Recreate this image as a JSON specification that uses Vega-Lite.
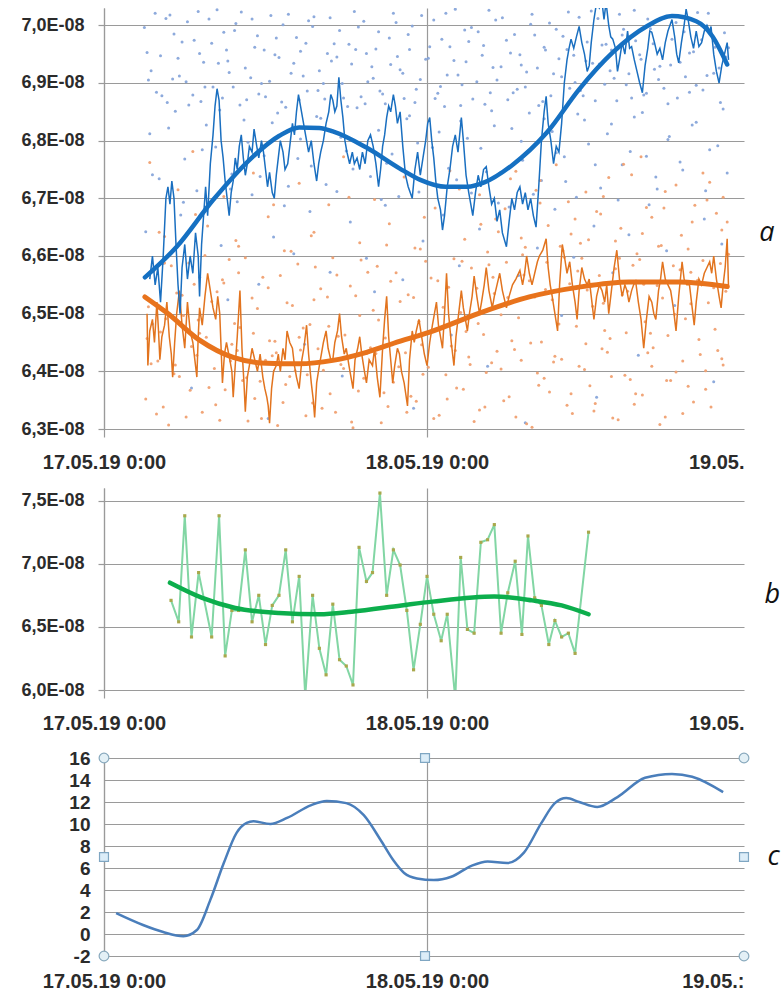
{
  "$schema": "https://vega.github.io/schema/vega-lite/v6.json",
  "background": "white",
  "padding": {"left": 20, "top": 8, "right": 0, "bottom": 0},
  "spacing": 16,
  "datasets": {
    "blueDots": [
      {"h":3.2,"v":6.953e-8},{"h":3.9,"v":6.884e-8},{"h":4.6,"v":7.012e-8},{"h":5.1,"v":6.907e-8},{"h":5.8,"v":6.971e-8},{"h":6.3,"v":6.862e-8},{"h":7.0,"v":7.024e-8},{"h":7.4,"v":6.936e-8},{"h":8.1,"v":6.893e-8},{"h":8.9,"v":6.988e-8},
      {"h":9.3,"v":6.918e-8},{"h":9.8,"v":7.003e-8},{"h":10.6,"v":6.871e-8},{"h":11.2,"v":6.962e-8},{"h":11.7,"v":6.899e-8},{"h":12.4,"v":7.017e-8},{"h":13.0,"v":6.944e-8},{"h":13.5,"v":6.858e-8},{"h":14.3,"v":6.979e-8},{"h":14.8,"v":6.912e-8},
      {"h":15.2,"v":7.008e-8},{"h":15.9,"v":6.887e-8},{"h":16.6,"v":6.951e-8},{"h":17.1,"v":6.968e-8},{"h":17.8,"v":6.874e-8},{"h":18.4,"v":6.933e-8},{"h":18.9,"v":6.997e-8},{"h":19.6,"v":6.902e-8},{"h":20.2,"v":6.959e-8},{"h":20.7,"v":6.881e-8},
      {"h":21.5,"v":7.021e-8},{"h":22.0,"v":6.923e-8},{"h":22.6,"v":6.984e-8},{"h":23.1,"v":6.866e-8},{"h":23.9,"v":6.941e-8},{"h":24.5,"v":7.009e-8},{"h":25.0,"v":6.894e-8},{"h":25.7,"v":6.963e-8},{"h":26.3,"v":6.914e-8},{"h":26.8,"v":6.992e-8},
      {"h":27.4,"v":6.872e-8},{"h":28.1,"v":6.948e-8},{"h":28.6,"v":7.026e-8},{"h":29.2,"v":6.905e-8},{"h":29.9,"v":6.974e-8},{"h":30.4,"v":6.883e-8},{"h":31.0,"v":6.931e-8},{"h":31.7,"v":7.002e-8},{"h":32.3,"v":6.861e-8},{"h":32.8,"v":6.957e-8},
      {"h":33.4,"v":6.916e-8},{"h":34.1,"v":6.981e-8},{"h":34.6,"v":6.891e-8},{"h":35.3,"v":7.014e-8},{"h":35.8,"v":6.938e-8},{"h":36.5,"v":6.869e-8},{"h":37.0,"v":6.966e-8},{"h":37.6,"v":6.921e-8},{"h":38.3,"v":7.019e-8},{"h":38.8,"v":6.897e-8},
      {"h":39.5,"v":6.973e-8},{"h":40.1,"v":6.879e-8},{"h":40.6,"v":6.994e-8},{"h":41.3,"v":6.929e-8},{"h":41.9,"v":6.864e-8},{"h":42.5,"v":7.005e-8},{"h":43.2,"v":6.911e-8},{"h":43.8,"v":6.954e-8},{"h":44.5,"v":6.888e-8},{"h":45.1,"v":6.986e-8},
      {"h":45.7,"v":6.926e-8},{"h":46.4,"v":6.961e-8},
      {"h":3.0,"v":6.996e-8},{"h":3.5,"v":6.921e-8},{"h":4.3,"v":6.878e-8},{"h":4.9,"v":7.018e-8},{"h":5.5,"v":6.943e-8},{"h":6.1,"v":6.902e-8},{"h":6.7,"v":6.974e-8},{"h":7.2,"v":6.868e-8},{"h":7.8,"v":7.011e-8},{"h":8.5,"v":6.934e-8},
      {"h":9.1,"v":6.957e-8},{"h":9.6,"v":6.893e-8},{"h":10.2,"v":7.023e-8},{"h":10.9,"v":6.909e-8},{"h":11.4,"v":6.982e-8},{"h":12.0,"v":6.876e-8},{"h":12.7,"v":6.949e-8},{"h":13.3,"v":7.001e-8},{"h":13.9,"v":6.917e-8},{"h":14.5,"v":6.871e-8},
      {"h":15.0,"v":6.969e-8},{"h":15.6,"v":7.015e-8},{"h":16.3,"v":6.899e-8},{"h":16.9,"v":6.938e-8},{"h":17.5,"v":6.991e-8},{"h":18.1,"v":6.859e-8},{"h":18.7,"v":6.958e-8},{"h":19.3,"v":7.007e-8},{"h":19.9,"v":6.928e-8},{"h":20.5,"v":6.886e-8},
      {"h":21.2,"v":6.978e-8},{"h":21.8,"v":6.946e-8},{"h":22.3,"v":6.873e-8},{"h":22.9,"v":6.999e-8},{"h":23.5,"v":6.906e-8},{"h":24.2,"v":6.963e-8},{"h":24.8,"v":6.882e-8},{"h":25.4,"v":7.021e-8},{"h":26.0,"v":6.939e-8},{"h":26.6,"v":6.897e-8},
      {"h":27.1,"v":6.972e-8},{"h":27.8,"v":6.989e-8},{"h":28.3,"v":6.863e-8},{"h":28.9,"v":6.927e-8},{"h":29.6,"v":7.013e-8},{"h":30.2,"v":6.952e-8},{"h":30.7,"v":6.889e-8},{"h":31.4,"v":6.919e-8},{"h":32.0,"v":6.983e-8},{"h":32.6,"v":6.868e-8},
      {"h":33.1,"v":7.004e-8},{"h":33.8,"v":6.942e-8},{"h":34.4,"v":6.958e-8},{"h":35.0,"v":6.901e-8},{"h":35.6,"v":6.878e-8},{"h":36.2,"v":7.025e-8},{"h":36.8,"v":6.933e-8},{"h":37.3,"v":6.967e-8},{"h":37.9,"v":6.908e-8},{"h":38.6,"v":6.993e-8},
      {"h":39.2,"v":6.874e-8},{"h":39.8,"v":6.949e-8},{"h":40.4,"v":7.011e-8},{"h":40.9,"v":6.924e-8},{"h":41.6,"v":6.891e-8},{"h":42.2,"v":6.976e-8},{"h":42.8,"v":6.936e-8},{"h":43.5,"v":6.884e-8},{"h":44.1,"v":7.022e-8},{"h":44.8,"v":6.913e-8},
      {"h":45.4,"v":6.962e-8},{"h":46.1,"v":6.987e-8},
      {"h":3.3,"v":6.905e-8},{"h":3.8,"v":7.021e-8},{"h":4.2,"v":6.947e-8},{"h":4.7,"v":6.866e-8},{"h":5.2,"v":6.985e-8},{"h":5.6,"v":6.912e-8},{"h":6.2,"v":7.006e-8},{"h":6.6,"v":6.879e-8},{"h":7.1,"v":6.951e-8},{"h":7.5,"v":6.893e-8},
      {"h":8.0,"v":6.969e-8},{"h":8.4,"v":7.027e-8},{"h":8.8,"v":6.874e-8},{"h":9.2,"v":6.938e-8},{"h":9.7,"v":6.991e-8},{"h":10.1,"v":6.862e-8},{"h":10.5,"v":6.926e-8},{"h":11.0,"v":7.011e-8},{"h":11.5,"v":6.881e-8},{"h":11.9,"v":6.957e-8},
      {"h":12.3,"v":6.903e-8},{"h":12.8,"v":6.978e-8},{"h":13.2,"v":6.867e-8},{"h":13.7,"v":7.019e-8},{"h":14.1,"v":6.934e-8},{"h":14.6,"v":6.955e-8},{"h":15.1,"v":6.886e-8},{"h":15.5,"v":6.998e-8},{"h":16.0,"v":6.921e-8},{"h":16.4,"v":6.872e-8},
      {"h":16.8,"v":7.013e-8},{"h":17.3,"v":6.945e-8},{"h":17.7,"v":6.899e-8},{"h":18.2,"v":6.967e-8},{"h":18.6,"v":7.024e-8},{"h":19.1,"v":6.876e-8},{"h":19.5,"v":6.951e-8},{"h":20.0,"v":6.908e-8},{"h":20.4,"v":6.989e-8},{"h":20.9,"v":6.864e-8},
      {"h":21.3,"v":6.932e-8},{"h":21.7,"v":7.005e-8},{"h":22.2,"v":6.917e-8},{"h":22.7,"v":6.958e-8},{"h":23.2,"v":6.889e-8},{"h":23.6,"v":7.017e-8},{"h":24.1,"v":6.943e-8},{"h":24.6,"v":6.873e-8},{"h":25.1,"v":6.976e-8},{"h":25.5,"v":6.914e-8},
      {"h":26.1,"v":7.028e-8},{"h":26.5,"v":6.861e-8},{"h":26.9,"v":6.937e-8},{"h":27.3,"v":6.996e-8},{"h":27.7,"v":6.902e-8},{"h":28.2,"v":6.965e-8},{"h":28.7,"v":6.883e-8},{"h":29.1,"v":7.009e-8},{"h":29.5,"v":6.928e-8},{"h":30.0,"v":6.871e-8},
      {"h":30.5,"v":6.984e-8},{"h":30.9,"v":6.949e-8},{"h":31.3,"v":6.893e-8},{"h":31.8,"v":7.019e-8},{"h":32.2,"v":6.926e-8},{"h":32.7,"v":6.962e-8},{"h":33.2,"v":6.878e-8},{"h":33.6,"v":6.993e-8},{"h":34.0,"v":6.911e-8},{"h":34.5,"v":7.023e-8},
      {"h":34.9,"v":6.948e-8},{"h":35.4,"v":6.887e-8},{"h":35.9,"v":6.971e-8},{"h":36.3,"v":6.934e-8},{"h":36.7,"v":7.012e-8},{"h":37.2,"v":6.898e-8},{"h":37.7,"v":6.957e-8},{"h":38.1,"v":6.869e-8},{"h":38.5,"v":6.983e-8},{"h":39.0,"v":6.916e-8},
      {"h":39.4,"v":7.026e-8},{"h":39.9,"v":6.941e-8},{"h":40.3,"v":6.882e-8},{"h":40.8,"v":6.968e-8},{"h":41.2,"v":6.906e-8},{"h":41.7,"v":7.015e-8},{"h":42.1,"v":6.931e-8},{"h":42.6,"v":6.874e-8},{"h":43.1,"v":6.989e-8},{"h":43.5,"v":6.952e-8},
      {"h":44.0,"v":6.896e-8},{"h":44.4,"v":6.975e-8},{"h":44.9,"v":7.021e-8},{"h":45.3,"v":6.917e-8},{"h":45.8,"v":6.866e-8},{"h":46.2,"v":6.945e-8},
      {"h":3.4,"v":6.812e-8},{"h":4.1,"v":6.734e-8},{"h":5.3,"v":6.851e-8},{"h":6.0,"v":6.768e-8},{"h":6.9,"v":6.713e-8},{"h":7.6,"v":6.827e-8},{"h":8.3,"v":6.789e-8},{"h":9.5,"v":6.742e-8},{"h":10.4,"v":6.836e-8},{"h":11.0,"v":6.706e-8},
      {"h":11.9,"v":6.774e-8},{"h":12.9,"v":6.848e-8},{"h":13.7,"v":6.721e-8},{"h":14.6,"v":6.803e-8},{"h":15.4,"v":6.756e-8},{"h":16.1,"v":6.839e-8},{"h":17.3,"v":6.712e-8},{"h":18.0,"v":6.782e-8},{"h":18.8,"v":6.857e-8},{"h":19.8,"v":6.738e-8},
      {"h":20.4,"v":6.818e-8},{"h":21.0,"v":6.761e-8},{"h":21.9,"v":6.703e-8},{"h":22.7,"v":6.843e-8},{"h":23.3,"v":6.796e-8},{"h":24.0,"v":6.727e-8},{"h":24.9,"v":6.815e-8},{"h":25.6,"v":6.752e-8},{"h":26.5,"v":6.834e-8},{"h":27.3,"v":6.709e-8},
      {"h":28.0,"v":6.787e-8},{"h":28.8,"v":6.852e-8},{"h":29.4,"v":6.744e-8},{"h":30.3,"v":6.821e-8},{"h":31.1,"v":6.766e-8},{"h":31.9,"v":6.707e-8},{"h":32.7,"v":6.838e-8},{"h":33.6,"v":6.779e-8},{"h":34.3,"v":6.729e-8},{"h":35.2,"v":6.846e-8},
      {"h":36.0,"v":6.794e-8},{"h":36.9,"v":6.718e-8},{"h":37.7,"v":6.829e-8},{"h":38.5,"v":6.758e-8},{"h":39.4,"v":6.841e-8},{"h":40.3,"v":6.773e-8},{"h":41.1,"v":6.716e-8},{"h":42.0,"v":6.807e-8},{"h":43.0,"v":6.749e-8},{"h":44.0,"v":6.832e-8},
      {"h":45.0,"v":6.784e-8},{"h":46.0,"v":6.855e-8},
      {"h":3.6,"v":6.741e-8},{"h":4.8,"v":6.822e-8},{"h":5.9,"v":6.693e-8},{"h":7.3,"v":6.784e-8},{"h":8.6,"v":6.853e-8},{"h":9.4,"v":6.716e-8},{"h":10.7,"v":6.797e-8},{"h":11.6,"v":6.738e-8},{"h":12.5,"v":6.831e-8},{"h":13.4,"v":6.687e-8},
      {"h":14.4,"v":6.769e-8},{"h":15.8,"v":6.842e-8},{"h":16.5,"v":6.724e-8},{"h":17.6,"v":6.806e-8},{"h":18.5,"v":6.751e-8},{"h":19.4,"v":6.864e-8},{"h":20.6,"v":6.698e-8},{"h":21.4,"v":6.777e-8},{"h":22.5,"v":6.838e-8},{"h":23.4,"v":6.711e-8},
      {"h":24.4,"v":6.788e-8},{"h":25.3,"v":6.859e-8},{"h":26.2,"v":6.732e-8},{"h":27.0,"v":6.804e-8},{"h":28.4,"v":6.746e-8},{"h":29.0,"v":6.826e-8},{"h":30.1,"v":6.685e-8},{"h":31.0,"v":6.799e-8},{"h":31.6,"v":6.848e-8},{"h":32.5,"v":6.731e-8},
      {"h":33.3,"v":6.816e-8},{"h":34.2,"v":6.772e-8},{"h":35.1,"v":6.702e-8},{"h":35.7,"v":6.836e-8},{"h":36.5,"v":6.758e-8},{"h":37.4,"v":6.812e-8},{"h":38.2,"v":6.697e-8},{"h":39.1,"v":6.781e-8},{"h":40.0,"v":6.849e-8},{"h":41.0,"v":6.737e-8},
      {"h":41.9,"v":6.802e-8},{"h":42.8,"v":6.763e-8},{"h":43.7,"v":6.827e-8},{"h":44.7,"v":6.713e-8},{"h":45.6,"v":6.791e-8},{"h":46.3,"v":6.744e-8},
      {"h":3.1,"v":6.642e-8},{"h":4.4,"v":6.587e-8},{"h":5.7,"v":6.671e-8},{"h":7.1,"v":6.563e-8},{"h":8.7,"v":6.618e-8},{"h":9.9,"v":6.694e-8},{"h":11.5,"v":6.551e-8},{"h":12.6,"v":6.633e-8},{"h":14.1,"v":6.604e-8},{"h":15.3,"v":6.677e-8},
      {"h":16.8,"v":6.572e-8},{"h":18.3,"v":6.659e-8},{"h":19.5,"v":6.596e-8},{"h":20.9,"v":6.688e-8},{"h":22.2,"v":6.559e-8},{"h":23.7,"v":6.626e-8},{"h":25.2,"v":6.671e-8},{"h":26.4,"v":6.583e-8},{"h":27.9,"v":6.647e-8},{"h":29.3,"v":6.692e-8},
      {"h":30.8,"v":6.566e-8},{"h":32.2,"v":6.614e-8},{"h":33.5,"v":6.681e-8},{"h":34.9,"v":6.598e-8},{"h":36.4,"v":6.652e-8},{"h":37.8,"v":6.571e-8},{"h":39.0,"v":6.637e-8},{"h":40.5,"v":6.689e-8},{"h":41.8,"v":6.609e-8},{"h":43.3,"v":6.556e-8},
      {"h":44.6,"v":6.664e-8},{"h":45.9,"v":6.621e-8},
      {"h":3.6,"v":6.482e-8},{"h":6.5,"v":6.371e-8},{"h":9.2,"v":6.524e-8},{"h":12.2,"v":6.318e-8},{"h":14.9,"v":6.447e-8},{"h":17.7,"v":6.392e-8},{"h":20.1,"v":6.538e-8},{"h":23.0,"v":6.336e-8},{"h":25.8,"v":6.463e-8},{"h":28.5,"v":6.409e-8},
      {"h":31.3,"v":6.311e-8},{"h":34.0,"v":6.497e-8},{"h":36.6,"v":6.355e-8},{"h":39.7,"v":6.428e-8},{"h":42.4,"v":6.514e-8},{"h":45.3,"v":6.382e-8}
    ],
    "orangeDots": [
      {"h":3.1,"v":6.352e-8},{"h":4.0,"v":6.418e-8},{"h":4.8,"v":6.307e-8},{"h":5.6,"v":6.391e-8},{"h":6.5,"v":6.443e-8},{"h":7.3,"v":6.329e-8},{"h":8.2,"v":6.405e-8},{"h":9.0,"v":6.368e-8},{"h":9.9,"v":6.436e-8},{"h":10.7,"v":6.314e-8},
      {"h":11.6,"v":6.383e-8},{"h":12.5,"v":6.427e-8},{"h":13.3,"v":6.346e-8},{"h":14.2,"v":6.401e-8},{"h":15.0,"v":6.323e-8},{"h":15.9,"v":6.439e-8},{"h":16.8,"v":6.361e-8},{"h":17.6,"v":6.412e-8},{"h":18.5,"v":6.302e-8},{"h":19.3,"v":6.388e-8},
      {"h":20.2,"v":6.431e-8},{"h":21.1,"v":6.339e-8},{"h":21.9,"v":6.408e-8},{"h":22.8,"v":6.357e-8},{"h":23.6,"v":6.446e-8},{"h":24.5,"v":6.318e-8},{"h":25.4,"v":6.394e-8},{"h":26.2,"v":6.371e-8},{"h":27.1,"v":6.425e-8},{"h":27.9,"v":6.333e-8},
      {"h":28.8,"v":6.415e-8},{"h":29.7,"v":6.349e-8},{"h":30.5,"v":6.438e-8},{"h":31.4,"v":6.309e-8},{"h":32.2,"v":6.397e-8},{"h":33.1,"v":6.364e-8},{"h":34.0,"v":6.421e-8},{"h":34.8,"v":6.327e-8},{"h":35.7,"v":6.403e-8},{"h":36.5,"v":6.344e-8},
      {"h":37.4,"v":6.433e-8},{"h":38.2,"v":6.316e-8},{"h":39.1,"v":6.386e-8},{"h":40.0,"v":6.359e-8},{"h":40.8,"v":6.441e-8},{"h":41.7,"v":6.321e-8},{"h":42.5,"v":6.399e-8},{"h":43.4,"v":6.374e-8},{"h":44.3,"v":6.429e-8},{"h":45.1,"v":6.338e-8},
      {"h":46.0,"v":6.411e-8},
      {"h":3.5,"v":6.413e-8},{"h":4.4,"v":6.338e-8},{"h":5.2,"v":6.396e-8},{"h":6.1,"v":6.321e-8},{"h":6.9,"v":6.428e-8},{"h":7.8,"v":6.372e-8},{"h":8.6,"v":6.315e-8},{"h":9.5,"v":6.447e-8},{"h":10.3,"v":6.384e-8},{"h":11.2,"v":6.353e-8},
      {"h":12.0,"v":6.419e-8},{"h":12.9,"v":6.306e-8},{"h":13.8,"v":6.391e-8},{"h":14.6,"v":6.437e-8},{"h":15.5,"v":6.345e-8},{"h":16.3,"v":6.402e-8},{"h":17.2,"v":6.329e-8},{"h":18.1,"v":6.424e-8},{"h":18.9,"v":6.366e-8},{"h":19.8,"v":6.441e-8},
      {"h":20.6,"v":6.311e-8},{"h":21.5,"v":6.381e-8},{"h":22.4,"v":6.432e-8},{"h":23.2,"v":6.348e-8},{"h":24.1,"v":6.407e-8},{"h":24.9,"v":6.324e-8},{"h":25.8,"v":6.444e-8},{"h":26.7,"v":6.369e-8},{"h":27.5,"v":6.313e-8},{"h":28.4,"v":6.398e-8},
      {"h":29.2,"v":6.435e-8},{"h":30.1,"v":6.356e-8},{"h":31.0,"v":6.419e-8},{"h":31.8,"v":6.303e-8},{"h":32.7,"v":6.388e-8},{"h":33.5,"v":6.426e-8},{"h":34.4,"v":6.341e-8},{"h":35.3,"v":6.409e-8},{"h":36.1,"v":6.375e-8},{"h":37.0,"v":6.439e-8},
      {"h":37.8,"v":6.319e-8},{"h":38.7,"v":6.393e-8},{"h":39.5,"v":6.361e-8},{"h":40.4,"v":6.432e-8},{"h":41.3,"v":6.308e-8},{"h":42.1,"v":6.384e-8},{"h":43.0,"v":6.418e-8},{"h":43.8,"v":6.347e-8},{"h":44.7,"v":6.401e-8},{"h":45.6,"v":6.436e-8},
      {"h":3.3,"v":6.512e-8},{"h":4.2,"v":6.468e-8},{"h":5.0,"v":6.583e-8},{"h":5.9,"v":6.497e-8},{"h":6.7,"v":6.551e-8},{"h":7.6,"v":6.459e-8},{"h":8.4,"v":6.538e-8},{"h":9.3,"v":6.594e-8},{"h":10.1,"v":6.476e-8},{"h":11.0,"v":6.527e-8},
      {"h":11.8,"v":6.563e-8},{"h":12.7,"v":6.452e-8},{"h":13.6,"v":6.519e-8},{"h":14.4,"v":6.586e-8},{"h":15.3,"v":6.481e-8},{"h":16.1,"v":6.543e-8},{"h":17.0,"v":6.597e-8},{"h":17.9,"v":6.463e-8},{"h":18.7,"v":6.531e-8},{"h":19.6,"v":6.572e-8},
      {"h":20.4,"v":6.489e-8},{"h":21.3,"v":6.556e-8},{"h":22.2,"v":6.455e-8},{"h":23.0,"v":6.528e-8},{"h":23.9,"v":6.591e-8},{"h":24.7,"v":6.471e-8},{"h":25.6,"v":6.546e-8},{"h":26.5,"v":6.502e-8},{"h":27.3,"v":6.579e-8},{"h":28.2,"v":6.464e-8},
      {"h":29.0,"v":6.535e-8},{"h":29.9,"v":6.589e-8},{"h":30.8,"v":6.493e-8},{"h":31.6,"v":6.557e-8},{"h":32.5,"v":6.451e-8},{"h":33.3,"v":6.524e-8},{"h":34.2,"v":6.598e-8},{"h":35.1,"v":6.478e-8},{"h":35.9,"v":6.541e-8},{"h":36.8,"v":6.566e-8},
      {"h":37.6,"v":6.457e-8},{"h":38.5,"v":6.533e-8},{"h":39.3,"v":6.584e-8},{"h":40.2,"v":6.486e-8},{"h":41.1,"v":6.549e-8},{"h":41.9,"v":6.462e-8},{"h":42.8,"v":6.576e-8},{"h":43.6,"v":6.517e-8},{"h":44.5,"v":6.592e-8},{"h":45.4,"v":6.473e-8},
      {"h":46.2,"v":6.539e-8},
      {"h":3.7,"v":6.574e-8},{"h":4.6,"v":6.491e-8},{"h":5.4,"v":6.536e-8},{"h":6.3,"v":6.588e-8},{"h":7.1,"v":6.466e-8},{"h":8.0,"v":6.521e-8},{"h":8.8,"v":6.559e-8},{"h":9.7,"v":6.483e-8},{"h":10.5,"v":6.597e-8},{"h":11.4,"v":6.509e-8},
      {"h":12.3,"v":6.453e-8},{"h":13.1,"v":6.566e-8},{"h":14.0,"v":6.514e-8},{"h":14.8,"v":6.475e-8},{"h":15.7,"v":6.581e-8},{"h":16.6,"v":6.529e-8},{"h":17.4,"v":6.461e-8},{"h":18.3,"v":6.548e-8},{"h":19.1,"v":6.593e-8},{"h":20.0,"v":6.506e-8},
      {"h":20.9,"v":6.458e-8},{"h":21.7,"v":6.571e-8},{"h":22.6,"v":6.533e-8},{"h":23.4,"v":6.487e-8},{"h":24.3,"v":6.562e-8},{"h":25.2,"v":6.511e-8},{"h":26.0,"v":6.595e-8},{"h":26.9,"v":6.469e-8},{"h":27.7,"v":6.544e-8},{"h":28.6,"v":6.585e-8},
      {"h":29.5,"v":6.498e-8},{"h":30.3,"v":6.453e-8},{"h":31.2,"v":6.567e-8},{"h":32.0,"v":6.529e-8},{"h":32.9,"v":6.589e-8},{"h":33.8,"v":6.482e-8},{"h":34.6,"v":6.552e-8},{"h":35.5,"v":6.596e-8},{"h":36.3,"v":6.513e-8},{"h":37.2,"v":6.471e-8},
      {"h":38.0,"v":6.578e-8},{"h":38.9,"v":6.539e-8},{"h":39.8,"v":6.594e-8},{"h":40.6,"v":6.466e-8},{"h":41.5,"v":6.527e-8},{"h":42.3,"v":6.583e-8},{"h":43.2,"v":6.491e-8},{"h":44.1,"v":6.558e-8},{"h":44.9,"v":6.519e-8},{"h":45.8,"v":6.587e-8},
      {"h":3.2,"v":6.457e-8},{"h":3.9,"v":6.326e-8},{"h":4.5,"v":6.588e-8},{"h":5.3,"v":6.411e-8},{"h":5.8,"v":6.532e-8},{"h":6.4,"v":6.367e-8},{"h":7.0,"v":6.489e-8},{"h":7.5,"v":6.601e-8},{"h":8.3,"v":6.342e-8},{"h":8.9,"v":6.553e-8},
      {"h":9.4,"v":6.418e-8},{"h":10.0,"v":6.571e-8},{"h":10.6,"v":6.389e-8},{"h":11.1,"v":6.466e-8},{"h":11.7,"v":6.318e-8},{"h":12.2,"v":6.545e-8},{"h":12.8,"v":6.432e-8},{"h":13.5,"v":6.377e-8},{"h":13.9,"v":6.608e-8},{"h":14.5,"v":6.459e-8},
      {"h":15.1,"v":6.394e-8},{"h":15.6,"v":6.524e-8},{"h":16.2,"v":6.336e-8},{"h":16.7,"v":6.478e-8},{"h":17.3,"v":6.567e-8},{"h":17.8,"v":6.405e-8},{"h":18.4,"v":6.312e-8},{"h":19.0,"v":6.497e-8},{"h":19.5,"v":6.431e-8},{"h":20.3,"v":6.582e-8},
      {"h":20.8,"v":6.363e-8},{"h":21.4,"v":6.446e-8},{"h":22.0,"v":6.521e-8},{"h":22.5,"v":6.329e-8},{"h":23.1,"v":6.614e-8},{"h":23.7,"v":6.395e-8},{"h":24.2,"v":6.468e-8},{"h":24.8,"v":6.557e-8},{"h":25.5,"v":6.352e-8},{"h":26.1,"v":6.436e-8},
      {"h":26.6,"v":6.591e-8},{"h":27.2,"v":6.412e-8},{"h":27.8,"v":6.483e-8},{"h":28.3,"v":6.338e-8},{"h":28.9,"v":6.563e-8},{"h":29.5,"v":6.404e-8},{"h":30.0,"v":6.528e-8},{"h":30.6,"v":6.321e-8},{"h":31.1,"v":6.602e-8},{"h":31.7,"v":6.449e-8},
      {"h":32.3,"v":6.376e-8},{"h":32.8,"v":6.542e-8},{"h":33.4,"v":6.416e-8},{"h":34.1,"v":6.609e-8},{"h":34.7,"v":6.361e-8},{"h":35.2,"v":6.574e-8},{"h":35.8,"v":6.448e-8},{"h":36.4,"v":6.331e-8},{"h":37.1,"v":6.518e-8},{"h":37.7,"v":6.391e-8},
      {"h":38.3,"v":6.596e-8},{"h":38.8,"v":6.467e-8},{"h":39.4,"v":6.343e-8},{"h":40.1,"v":6.551e-8},{"h":40.7,"v":6.409e-8},{"h":41.2,"v":6.617e-8},{"h":41.8,"v":6.384e-8},{"h":42.4,"v":6.499e-8},{"h":43.0,"v":6.327e-8},{"h":43.6,"v":6.572e-8},
      {"h":44.2,"v":6.455e-8},{"h":44.7,"v":6.369e-8},{"h":45.3,"v":6.545e-8},{"h":45.9,"v":6.422e-8},{"h":46.4,"v":6.603e-8},
      {"h":3.4,"v":6.762e-8},{"h":4.5,"v":6.634e-8},{"h":5.5,"v":6.715e-8},{"h":6.6,"v":6.781e-8},{"h":7.7,"v":6.652e-8},{"h":8.9,"v":6.703e-8},{"h":10.0,"v":6.617e-8},{"h":11.1,"v":6.744e-8},{"h":12.2,"v":6.668e-8},{"h":13.4,"v":6.609e-8},
      {"h":14.5,"v":6.726e-8},{"h":15.6,"v":6.641e-8},{"h":16.7,"v":6.689e-8},{"h":17.8,"v":6.772e-8},{"h":19.0,"v":6.623e-8},{"h":20.1,"v":6.698e-8},{"h":21.2,"v":6.656e-8},{"h":22.3,"v":6.737e-8},{"h":23.5,"v":6.612e-8},{"h":24.6,"v":6.683e-8},
      {"h":25.7,"v":6.748e-8},{"h":26.8,"v":6.629e-8},{"h":27.9,"v":6.706e-8},{"h":29.1,"v":6.664e-8},{"h":30.2,"v":6.734e-8},{"h":31.3,"v":6.615e-8},{"h":32.4,"v":6.692e-8},{"h":33.6,"v":6.758e-8},{"h":34.7,"v":6.638e-8},{"h":35.8,"v":6.711e-8},
      {"h":36.9,"v":6.673e-8},{"h":38.0,"v":6.626e-8},{"h":39.2,"v":6.741e-8},{"h":40.3,"v":6.684e-8},{"h":41.4,"v":6.618e-8},{"h":42.5,"v":6.723e-8},{"h":43.7,"v":6.659e-8},{"h":44.8,"v":6.697e-8},{"h":45.9,"v":6.645e-8},
      {"h":4.1,"v":6.641e-8},{"h":6.8,"v":6.672e-8},{"h":9.8,"v":6.627e-8},{"h":12.6,"v":6.689e-8},{"h":15.4,"v":6.635e-8},{"h":18.2,"v":6.702e-8},{"h":21.0,"v":6.619e-8},{"h":23.8,"v":6.667e-8},{"h":26.4,"v":6.716e-8},{"h":29.3,"v":6.642e-8},
      {"h":32.4,"v":6.731e-8},{"h":35.0,"v":6.664e-8},{"h":38.6,"v":6.759e-8},{"h":41.6,"v":6.683e-8},{"h":44.5,"v":6.744e-8},{"h":46.0,"v":6.702e-8},{"h":31.5,"v":6.782e-8},{"h":39.9,"v":6.772e-8},
      {"h":28.5,"v":6.607e-8},{"h":29.8,"v":6.682e-8},{"h":31.0,"v":6.631e-8},{"h":32.1,"v":6.714e-8},{"h":33.0,"v":6.653e-8},{"h":34.5,"v":6.694e-8},{"h":35.4,"v":6.622e-8},{"h":36.6,"v":6.677e-8},{"h":37.5,"v":6.736e-8},{"h":38.4,"v":6.648e-8},
      {"h":39.6,"v":6.604e-8},{"h":40.7,"v":6.667e-8},{"h":41.7,"v":6.712e-8},{"h":42.9,"v":6.636e-8},{"h":43.9,"v":6.688e-8},{"h":45.0,"v":6.728e-8},{"h":46.3,"v":6.659e-8},{"h":30.6,"v":6.747e-8},{"h":33.9,"v":6.617e-8},{"h":37.1,"v":6.703e-8},
      {"h":40.0,"v":6.639e-8},{"h":43.4,"v":6.612e-8},{"h":45.5,"v":6.674e-8},{"h":28.0,"v":6.655e-8},{"h":36.0,"v":6.628e-8}
    ],
    "blueSeries": [
      {"h":3.4,"v":6.56e-8},{"h":3.6,"v":6.60e-8},{"h":3.8,"v":6.55e-8},{"h":4.0,"v":6.58e-8},{"h":4.2,"v":6.52e-8},{"h":4.4,"v":6.60e-8},{"h":4.6,"v":6.70e-8},{"h":4.75,"v":6.72e-8},{"h":4.9,"v":6.69e-8},{"h":5.04,"v":6.73e-8},
      {"h":5.2,"v":6.70e-8},{"h":5.35,"v":6.62e-8},{"h":5.5,"v":6.55e-8},{"h":5.65,"v":6.50e-8},{"h":5.8,"v":6.58e-8},{"h":6.0,"v":6.62e-8},{"h":6.2,"v":6.56e-8},{"h":6.4,"v":6.60e-8},{"h":6.6,"v":6.57e-8},{"h":6.8,"v":6.64e-8},
      {"h":7.0,"v":6.60e-8},{"h":7.1,"v":6.53e-8},{"h":7.25,"v":6.62e-8},{"h":7.4,"v":6.67e-8},{"h":7.55,"v":6.72e-8},{"h":7.7,"v":6.67e-8},{"h":7.9,"v":6.76e-8},{"h":8.1,"v":6.81e-8},{"h":8.25,"v":6.86e-8},{"h":8.4,"v":6.89e-8},
      {"h":8.55,"v":6.87e-8},{"h":8.7,"v":6.80e-8},{"h":8.85,"v":6.77e-8},{"h":9.0,"v":6.73e-8},{"h":9.15,"v":6.70e-8},{"h":9.3,"v":6.67e-8},{"h":9.45,"v":6.71e-8},{"h":9.6,"v":6.73e-8},{"h":9.75,"v":6.77e-8},{"h":9.9,"v":6.75e-8},
      {"h":10.05,"v":6.79e-8},{"h":10.2,"v":6.81e-8},{"h":10.35,"v":6.77e-8},{"h":10.5,"v":6.74e-8},{"h":10.65,"v":6.76e-8},{"h":10.8,"v":6.79e-8},{"h":11.0,"v":6.78e-8},{"h":11.15,"v":6.82e-8},{"h":11.35,"v":6.79e-8},{"h":11.5,"v":6.77e-8},
      {"h":11.7,"v":6.80e-8},{"h":11.85,"v":6.78e-8},{"h":12.0,"v":6.75e-8},{"h":12.15,"v":6.72e-8},{"h":12.3,"v":6.745e-8},{"h":12.5,"v":6.71e-8},{"h":12.65,"v":6.70e-8},{"h":12.8,"v":6.74e-8},{"h":12.95,"v":6.77e-8},{"h":13.1,"v":6.80e-8},
      {"h":13.3,"v":6.78e-8},{"h":13.45,"v":6.75e-8},{"h":13.65,"v":6.76e-8},{"h":13.85,"v":6.80e-8},{"h":14.0,"v":6.83e-8},{"h":14.15,"v":6.81e-8},{"h":14.3,"v":6.85e-8},{"h":14.45,"v":6.88e-8},{"h":14.6,"v":6.86e-8},{"h":14.75,"v":6.84e-8},
      {"h":14.9,"v":6.82e-8},{"h":15.05,"v":6.80e-8},{"h":15.2,"v":6.78e-8},{"h":15.4,"v":6.80e-8},{"h":15.6,"v":6.76e-8},{"h":15.8,"v":6.73e-8},{"h":15.95,"v":6.76e-8},{"h":16.1,"v":6.78e-8},{"h":16.3,"v":6.80e-8},{"h":16.5,"v":6.83e-8},
      {"h":16.7,"v":6.85e-8},{"h":16.85,"v":6.88e-8},{"h":17.0,"v":6.87e-8},{"h":17.15,"v":6.85e-8},{"h":17.3,"v":6.86e-8},{"h":17.45,"v":6.91e-8},{"h":17.6,"v":6.87e-8},{"h":17.75,"v":6.84e-8},{"h":17.9,"v":6.80e-8},{"h":18.05,"v":6.78e-8},
      {"h":18.25,"v":6.76e-8},{"h":18.45,"v":6.78e-8},{"h":18.6,"v":6.76e-8},{"h":18.8,"v":6.77e-8},{"h":19.0,"v":6.75e-8},{"h":19.2,"v":6.78e-8},{"h":19.4,"v":6.76e-8},{"h":19.6,"v":6.80e-8},{"h":19.8,"v":6.81e-8},{"h":20.0,"v":6.79e-8},
      {"h":20.2,"v":6.76e-8},{"h":20.4,"v":6.72e-8},{"h":20.55,"v":6.75e-8},{"h":20.7,"v":6.79e-8},{"h":20.85,"v":6.81e-8},{"h":21.0,"v":6.84e-8},{"h":21.15,"v":6.86e-8},{"h":21.3,"v":6.85e-8},{"h":21.5,"v":6.88e-8},{"h":21.65,"v":6.86e-8},
      {"h":21.8,"v":6.83e-8},{"h":22.0,"v":6.85e-8},{"h":22.2,"v":6.79e-8},{"h":22.4,"v":6.74e-8},{"h":22.6,"v":6.72e-8},{"h":22.9,"v":6.70e-8},{"h":23.1,"v":6.75e-8},{"h":23.3,"v":6.78e-8},{"h":23.5,"v":6.74e-8},{"h":23.7,"v":6.77e-8},
      {"h":23.9,"v":6.80e-8},{"h":24.05,"v":6.83e-8},{"h":24.2,"v":6.84e-8},{"h":24.35,"v":6.80e-8},{"h":24.5,"v":6.77e-8},{"h":24.65,"v":6.73e-8},{"h":24.8,"v":6.70e-8},{"h":25.0,"v":6.68e-8},{"h":25.15,"v":6.645e-8},{"h":25.3,"v":6.67e-8},
      {"h":25.5,"v":6.72e-8},{"h":25.7,"v":6.75e-8},{"h":25.9,"v":6.79e-8},{"h":26.1,"v":6.81e-8},{"h":26.3,"v":6.78e-8},{"h":26.55,"v":6.84e-8},{"h":26.7,"v":6.80e-8},{"h":26.9,"v":6.74e-8},{"h":27.1,"v":6.71e-8},{"h":27.25,"v":6.69e-8},
      {"h":27.4,"v":6.67e-8},{"h":27.6,"v":6.71e-8},{"h":27.8,"v":6.74e-8},{"h":28.0,"v":6.72e-8},{"h":28.2,"v":6.75e-8},{"h":28.4,"v":6.755e-8},{"h":28.6,"v":6.72e-8},{"h":28.8,"v":6.69e-8},{"h":29.0,"v":6.70e-8},{"h":29.2,"v":6.66e-8},
      {"h":29.4,"v":6.68e-8},{"h":29.6,"v":6.64e-8},{"h":29.9,"v":6.616e-8},{"h":30.1,"v":6.66e-8},{"h":30.3,"v":6.70e-8},{"h":30.5,"v":6.68e-8},{"h":30.7,"v":6.71e-8},{"h":30.9,"v":6.72e-8},{"h":31.1,"v":6.69e-8},{"h":31.3,"v":6.71e-8},
      {"h":31.5,"v":6.68e-8},{"h":31.7,"v":6.70e-8},{"h":31.9,"v":6.67e-8},{"h":32.1,"v":6.65e-8},{"h":32.3,"v":6.72e-8},{"h":32.5,"v":6.80e-8},{"h":32.7,"v":6.85e-8},{"h":32.85,"v":6.877e-8},{"h":33.0,"v":6.83e-8},{"h":33.2,"v":6.80e-8},
      {"h":33.4,"v":6.76e-8},{"h":33.6,"v":6.79e-8},{"h":33.8,"v":6.78e-8},{"h":34.0,"v":6.83e-8},{"h":34.2,"v":6.90e-8},{"h":34.4,"v":6.94e-8},{"h":34.55,"v":6.96e-8},{"h":34.7,"v":6.976e-8},{"h":34.9,"v":6.96e-8},{"h":35.1,"v":6.98e-8},
      {"h":35.3,"v":6.998e-8},{"h":35.5,"v":6.97e-8},{"h":35.7,"v":6.95e-8},{"h":35.9,"v":6.92e-8},{"h":36.05,"v":6.93e-8},{"h":36.2,"v":6.97e-8},{"h":36.4,"v":7.01e-8},{"h":36.6,"v":7.04e-8},{"h":36.8,"v":7.03e-8},{"h":37.0,"v":7.04e-8},
      {"h":37.15,"v":7.01e-8},{"h":37.3,"v":7.04e-8},{"h":37.5,"v":7.00e-8},{"h":37.65,"v":6.98e-8},{"h":37.8,"v":6.976e-8},{"h":38.0,"v":6.96e-8},{"h":38.15,"v":6.92e-8},{"h":38.3,"v":6.94e-8},{"h":38.5,"v":6.97e-8},{"h":38.7,"v":6.95e-8},
      {"h":38.9,"v":6.99e-8},{"h":39.05,"v":6.96e-8},{"h":39.2,"v":6.963e-8},{"h":39.4,"v":6.94e-8},{"h":39.6,"v":6.92e-8},{"h":39.8,"v":6.90e-8},{"h":40.0,"v":6.883e-8},{"h":40.2,"v":6.93e-8},{"h":40.4,"v":6.96e-8},{"h":40.55,"v":6.99e-8},
      {"h":40.7,"v":6.988e-8},{"h":40.9,"v":6.97e-8},{"h":41.1,"v":6.95e-8},{"h":41.3,"v":6.96e-8},{"h":41.5,"v":6.94e-8},{"h":41.7,"v":6.97e-8},{"h":41.9,"v":6.99e-8},{"h":42.05,"v":7.00e-8},{"h":42.2,"v":7.01e-8},{"h":42.4,"v":6.98e-8},
      {"h":42.55,"v":6.95e-8},{"h":42.7,"v":6.935e-8},{"h":42.9,"v":6.97e-8},{"h":43.1,"v":7.00e-8},{"h":43.25,"v":7.028e-8},{"h":43.4,"v":7.01e-8},{"h":43.6,"v":6.98e-8},{"h":43.8,"v":6.96e-8},{"h":44.0,"v":6.99e-8},{"h":44.2,"v":6.963e-8},
      {"h":44.4,"v":6.97e-8},{"h":44.6,"v":6.99e-8},{"h":44.8,"v":7.00e-8},{"h":45.0,"v":6.99e-8},{"h":45.1,"v":6.998e-8},{"h":45.3,"v":6.95e-8},{"h":45.5,"v":6.92e-8},{"h":45.7,"v":6.90e-8},{"h":45.9,"v":6.93e-8},{"h":46.1,"v":6.95e-8},
      {"h":46.3,"v":6.97e-8},{"h":46.4,"v":6.94e-8}
    ],
    "orangeSeries": [
      {"h":3.2,"v":6.50e-8},{"h":3.26,"v":6.41e-8},{"h":3.4,"v":6.47e-8},{"h":3.6,"v":6.49e-8},{"h":3.75,"v":6.45e-8},{"h":3.93,"v":6.52e-8},{"h":4.05,"v":6.47e-8},{"h":4.15,"v":6.42e-8},{"h":4.3,"v":6.46e-8},{"h":4.5,"v":6.48e-8},
      {"h":4.67,"v":6.52e-8},{"h":4.85,"v":6.46e-8},{"h":5.0,"v":6.43e-8},{"h":5.1,"v":6.39e-8},{"h":5.25,"v":6.45e-8},{"h":5.4,"v":6.50e-8},{"h":5.6,"v":6.54e-8},{"h":5.8,"v":6.48e-8},{"h":6.0,"v":6.44e-8},{"h":6.2,"v":6.52e-8},
      {"h":6.4,"v":6.47e-8},{"h":6.6,"v":6.45e-8},{"h":6.75,"v":6.42e-8},{"h":6.9,"v":6.39e-8},{"h":7.0,"v":6.46e-8},{"h":7.1,"v":6.51e-8},{"h":7.3,"v":6.48e-8},{"h":7.5,"v":6.53e-8},{"h":7.7,"v":6.57e-8},{"h":7.9,"v":6.54e-8},
      {"h":8.1,"v":6.51e-8},{"h":8.3,"v":6.49e-8},{"h":8.45,"v":6.53e-8},{"h":8.6,"v":6.50e-8},{"h":8.8,"v":6.38e-8},{"h":8.95,"v":6.43e-8},{"h":9.1,"v":6.45e-8},{"h":9.35,"v":6.42e-8},{"h":9.5,"v":6.40e-8},{"h":9.6,"v":6.355e-8},
      {"h":9.75,"v":6.41e-8},{"h":9.9,"v":6.46e-8},{"h":10.1,"v":6.54e-8},{"h":10.25,"v":6.44e-8},{"h":10.4,"v":6.38e-8},{"h":10.5,"v":6.33e-8},{"h":10.65,"v":6.39e-8},{"h":10.8,"v":6.41e-8},{"h":11.0,"v":6.44e-8},{"h":11.2,"v":6.42e-8},
      {"h":11.4,"v":6.40e-8},{"h":11.6,"v":6.43e-8},{"h":11.8,"v":6.39e-8},{"h":11.95,"v":6.37e-8},{"h":12.1,"v":6.355e-8},{"h":12.2,"v":6.34e-8},{"h":12.3,"v":6.31e-8},{"h":12.45,"v":6.37e-8},{"h":12.6,"v":6.40e-8},{"h":12.8,"v":6.41e-8},
      {"h":12.95,"v":6.43e-8},{"h":13.1,"v":6.40e-8},{"h":13.3,"v":6.44e-8},{"h":13.45,"v":6.42e-8},{"h":13.6,"v":6.47e-8},{"h":13.8,"v":6.45e-8},{"h":14.0,"v":6.44e-8},{"h":14.15,"v":6.41e-8},{"h":14.3,"v":6.39e-8},{"h":14.5,"v":6.37e-8},
      {"h":14.7,"v":6.42e-8},{"h":14.85,"v":6.44e-8},{"h":15.05,"v":6.48e-8},{"h":15.2,"v":6.43e-8},{"h":15.4,"v":6.38e-8},{"h":15.55,"v":6.35e-8},{"h":15.65,"v":6.32e-8},{"h":15.8,"v":6.38e-8},{"h":16.0,"v":6.41e-8},{"h":16.15,"v":6.43e-8},
      {"h":16.3,"v":6.45e-8},{"h":16.5,"v":6.47e-8},{"h":16.65,"v":6.44e-8},{"h":16.85,"v":6.42e-8},{"h":17.0,"v":6.42e-8},{"h":17.15,"v":6.45e-8},{"h":17.35,"v":6.47e-8},{"h":17.5,"v":6.50e-8},{"h":17.65,"v":6.46e-8},{"h":17.85,"v":6.43e-8},
      {"h":18.0,"v":6.44e-8},{"h":18.2,"v":6.41e-8},{"h":18.35,"v":6.39e-8},{"h":18.5,"v":6.37e-8},{"h":18.65,"v":6.42e-8},{"h":18.85,"v":6.44e-8},{"h":19.0,"v":6.46e-8},{"h":19.15,"v":6.43e-8},{"h":19.35,"v":6.40e-8},{"h":19.5,"v":6.38e-8},
      {"h":19.7,"v":6.42e-8},{"h":19.95,"v":6.41e-8},{"h":20.1,"v":6.44e-8},{"h":20.3,"v":6.39e-8},{"h":20.5,"v":6.355e-8},{"h":20.7,"v":6.44e-8},{"h":20.85,"v":6.49e-8},{"h":21.0,"v":6.53e-8},{"h":21.15,"v":6.46e-8},{"h":21.3,"v":6.42e-8},
      {"h":21.45,"v":6.38e-8},{"h":21.6,"v":6.41e-8},{"h":21.8,"v":6.44e-8},{"h":21.95,"v":6.43e-8},{"h":22.1,"v":6.40e-8},{"h":22.3,"v":6.38e-8},{"h":22.55,"v":6.34e-8},{"h":22.7,"v":6.42e-8},{"h":22.9,"v":6.47e-8},{"h":23.05,"v":6.45e-8},
      {"h":23.2,"v":6.47e-8},{"h":23.4,"v":6.49e-8},{"h":23.6,"v":6.46e-8},{"h":23.8,"v":6.43e-8},{"h":24.0,"v":6.41e-8},{"h":24.2,"v":6.45e-8},{"h":24.4,"v":6.48e-8},{"h":24.55,"v":6.50e-8},{"h":24.7,"v":6.52e-8},{"h":24.85,"v":6.48e-8},
      {"h":25.0,"v":6.46e-8},{"h":25.15,"v":6.44e-8},{"h":25.3,"v":6.50e-8},{"h":25.45,"v":6.57e-8},{"h":25.6,"v":6.50e-8},{"h":25.8,"v":6.45e-8},{"h":26.0,"v":6.41e-8},{"h":26.15,"v":6.46e-8},{"h":26.35,"v":6.50e-8},{"h":26.55,"v":6.54e-8},
      {"h":26.7,"v":6.51e-8},{"h":26.85,"v":6.49e-8},{"h":27.0,"v":6.47e-8},{"h":27.15,"v":6.50e-8},{"h":27.35,"v":6.53e-8},{"h":27.5,"v":6.565e-8},{"h":27.7,"v":6.53e-8},{"h":27.9,"v":6.50e-8},{"h":28.05,"v":6.52e-8},{"h":28.25,"v":6.55e-8},
      {"h":28.4,"v":6.58e-8},{"h":28.6,"v":6.54e-8},{"h":28.85,"v":6.51e-8},{"h":29.0,"v":6.53e-8},{"h":29.2,"v":6.55e-8},{"h":29.4,"v":6.57e-8},{"h":29.6,"v":6.54e-8},{"h":29.9,"v":6.51e-8},{"h":30.1,"v":6.53e-8},{"h":30.35,"v":6.55e-8},
      {"h":30.6,"v":6.56e-8},{"h":30.9,"v":6.575e-8},{"h":31.1,"v":6.55e-8},{"h":31.25,"v":6.57e-8},{"h":31.4,"v":6.60e-8},{"h":31.6,"v":6.57e-8},{"h":31.8,"v":6.55e-8},{"h":32.0,"v":6.57e-8},{"h":32.2,"v":6.59e-8},{"h":32.35,"v":6.60e-8},
      {"h":32.6,"v":6.61e-8},{"h":32.85,"v":6.63e-8},{"h":33.0,"v":6.58e-8},{"h":33.15,"v":6.55e-8},{"h":33.3,"v":6.53e-8},{"h":33.5,"v":6.50e-8},{"h":33.7,"v":6.47e-8},{"h":33.85,"v":6.55e-8},{"h":34.05,"v":6.62e-8},{"h":34.2,"v":6.60e-8},
      {"h":34.4,"v":6.57e-8},{"h":34.6,"v":6.59e-8},{"h":34.8,"v":6.55e-8},{"h":35.0,"v":6.52e-8},{"h":35.15,"v":6.49e-8},{"h":35.3,"v":6.54e-8},{"h":35.5,"v":6.58e-8},{"h":35.7,"v":6.56e-8},{"h":35.9,"v":6.55e-8},{"h":36.05,"v":6.56e-8},
      {"h":36.25,"v":6.52e-8},{"h":36.4,"v":6.49e-8},{"h":36.6,"v":6.53e-8},{"h":36.8,"v":6.55e-8},{"h":37.0,"v":6.54e-8},{"h":37.2,"v":6.52e-8},{"h":37.35,"v":6.55e-8},{"h":37.5,"v":6.50e-8},{"h":37.7,"v":6.54e-8},{"h":37.9,"v":6.58e-8},
      {"h":38.1,"v":6.61e-8},{"h":38.3,"v":6.56e-8},{"h":38.5,"v":6.53e-8},{"h":38.7,"v":6.55e-8},{"h":38.85,"v":6.54e-8},{"h":39.0,"v":6.52e-8},{"h":39.2,"v":6.54e-8},{"h":39.35,"v":6.55e-8},{"h":39.5,"v":6.556e-8},{"h":39.7,"v":6.52e-8},
      {"h":39.9,"v":6.49e-8},{"h":40.1,"v":6.44e-8},{"h":40.3,"v":6.49e-8},{"h":40.5,"v":6.53e-8},{"h":40.7,"v":6.52e-8},{"h":40.85,"v":6.50e-8},{"h":41.0,"v":6.49e-8},{"h":41.2,"v":6.54e-8},{"h":41.35,"v":6.56e-8},{"h":41.5,"v":6.59e-8},
      {"h":41.7,"v":6.56e-8},{"h":41.9,"v":6.55e-8},{"h":42.1,"v":6.54e-8},{"h":42.3,"v":6.51e-8},{"h":42.5,"v":6.47e-8},{"h":42.7,"v":6.53e-8},{"h":42.95,"v":6.59e-8},{"h":43.1,"v":6.56e-8},{"h":43.3,"v":6.55e-8},{"h":43.5,"v":6.55e-8},
      {"h":43.7,"v":6.51e-8},{"h":43.85,"v":6.48e-8},{"h":44.0,"v":6.52e-8},{"h":44.2,"v":6.56e-8},{"h":44.4,"v":6.55e-8},{"h":44.6,"v":6.57e-8},{"h":44.8,"v":6.58e-8},{"h":45.0,"v":6.59e-8},{"h":45.15,"v":6.57e-8},{"h":45.3,"v":6.60e-8},
      {"h":45.5,"v":6.56e-8},{"h":45.7,"v":6.53e-8},{"h":45.85,"v":6.51e-8},{"h":46.0,"v":6.55e-8},{"h":46.15,"v":6.58e-8},{"h":46.3,"v":6.63e-8},{"h":46.4,"v":6.545e-8}
    ],
    "blueTrend": [
      {"h":3.04,"v":6.563e-8},{"h":5.4,"v":6.616e-8},{"h":8.1,"v":6.697e-8},{"h":11.05,"v":6.772e-8},{"h":13.0,"v":6.808e-8},{"h":14.5,"v":6.823e-8},{"h":16.0,"v":6.822e-8},{"h":17.0,"v":6.816e-8},{"h":19.5,"v":6.788e-8},{"h":21.95,"v":6.752e-8},
      {"h":23.5,"v":6.732e-8},{"h":25.4,"v":6.72e-8},{"h":27.0,"v":6.72e-8},{"h":28.3,"v":6.728e-8},{"h":30.3,"v":6.757e-8},{"h":32.9,"v":6.814e-8},{"h":35.3,"v":6.889e-8},{"h":37.8,"v":6.953e-8},{"h":40.3,"v":6.998e-8},{"h":42.2,"v":7.016e-8},
      {"h":44.0,"v":7.007e-8},{"h":45.2,"v":6.981e-8},{"h":46.3,"v":6.932e-8}
    ],
    "orangeTrend": [
      {"h":3.04,"v":6.529e-8},{"h":4.7,"v":6.501e-8},{"h":7.1,"v":6.454e-8},{"h":9.6,"v":6.424e-8},{"h":12.1,"v":6.414e-8},{"h":14.5,"v":6.413e-8},{"h":17.0,"v":6.419e-8},{"h":19.5,"v":6.433e-8},{"h":21.95,"v":6.452e-8},{"h":24.2,"v":6.468e-8},
      {"h":27.9,"v":6.501e-8},{"h":31.6,"v":6.529e-8},{"h":35.3,"v":6.546e-8},{"h":39.0,"v":6.555e-8},{"h":42.7,"v":6.555e-8},{"h":46.3,"v":6.547e-8}
    ],
    "greenSeries": [
      {"h":4.98,"v":6.71e-8},{"h":5.55,"v":6.54e-8},{"h":6.0,"v":7.38e-8},{"h":6.5,"v":6.42e-8},{"h":7.03,"v":6.93e-8},{"h":8.0,"v":6.42e-8},{"h":8.55,"v":7.38e-8},{"h":9.0,"v":6.27e-8},{"h":9.5,"v":6.63e-8},{"h":10.0,"v":6.63e-8},
      {"h":10.5,"v":7.11e-8},{"h":11.0,"v":6.54e-8},{"h":11.5,"v":6.75e-8},{"h":12.0,"v":6.36e-8},{"h":12.5,"v":6.67e-8},{"h":13.0,"v":6.75e-8},{"h":13.5,"v":7.11e-8},{"h":14.0,"v":6.54e-8},{"h":14.5,"v":6.90e-8},{"h":14.95,"v":5.95e-8},
      {"h":15.5,"v":6.75e-8},{"h":16.0,"v":6.33e-8},{"h":16.5,"v":6.12e-8},{"h":17.0,"v":6.68e-8},{"h":17.5,"v":6.24e-8},{"h":18.0,"v":6.19e-8},{"h":18.5,"v":6.04e-8},{"h":18.95,"v":7.13e-8},{"h":19.5,"v":6.86e-8},{"h":19.95,"v":6.93e-8},
      {"h":20.5,"v":7.56e-8},{"h":21.0,"v":6.75e-8},{"h":21.5,"v":7.11e-8},{"h":22.0,"v":6.99e-8},{"h":22.5,"v":6.63e-8},{"h":23.0,"v":6.16e-8},{"h":23.5,"v":6.52e-8},{"h":24.0,"v":6.90e-8},{"h":24.5,"v":6.60e-8},{"h":25.05,"v":6.39e-8},
      {"h":25.5,"v":6.60e-8},{"h":26.1,"v":5.93e-8},{"h":26.5,"v":7.05e-8},{"h":27.0,"v":6.48e-8},{"h":27.5,"v":6.45e-8},{"h":28.0,"v":7.17e-8},{"h":28.5,"v":7.19e-8},{"h":29.0,"v":7.31e-8},{"h":29.5,"v":6.45e-8},{"h":30.0,"v":6.77e-8},
      {"h":30.55,"v":7.02e-8},{"h":31.05,"v":6.44e-8},{"h":31.5,"v":7.22e-8},{"h":32.0,"v":6.73e-8},{"h":32.5,"v":6.67e-8},{"h":33.05,"v":6.36e-8},{"h":33.5,"v":6.55e-8},{"h":34.0,"v":6.42e-8},{"h":34.5,"v":6.45e-8},{"h":35.0,"v":6.29e-8},
      {"h":36.0,"v":7.25e-8}
    ],
    "greenTrend": [
      {"h":4.9,"v":6.85e-8},{"h":7.3,"v":6.73e-8},{"h":9.75,"v":6.65e-8},{"h":13.0,"v":6.61e-8},{"h":16.0,"v":6.60e-8},{"h":18.4,"v":6.62e-8},{"h":22.1,"v":6.67e-8},{"h":24.4,"v":6.70e-8},{"h":29.0,"v":6.74e-8},{"h":31.8,"v":6.71e-8},
      {"h":34.0,"v":6.67e-8},{"h":36.0,"v":6.60e-8}
    ],
    "curveC": [
      {"h":0.9,"v":1.9},{"h":2.9,"v":0.82},{"h":4.4,"v":0.18},{"h":5.9,"v":-0.2},{"h":6.9,"v":0.36},{"h":7.9,"v":3.1},{"h":8.9,"v":6.45},{"h":9.85,"v":9.2},{"h":10.6,"v":10.1},{"h":11.1,"v":10.25},
      {"h":12.35,"v":10.0},{"h":13.6,"v":10.55},{"h":15.35,"v":11.7},{"h":16.55,"v":12.1},{"h":18.0,"v":11.9},{"h":19.3,"v":10.8},{"h":20.55,"v":8.55},{"h":21.5,"v":6.7},{"h":22.3,"v":5.55},{"h":23.25,"v":5.05},
      {"h":24.5,"v":4.9},{"h":25.8,"v":5.2},{"h":27.3,"v":6.2},{"h":28.5,"v":6.6},{"h":29.95,"v":6.45},{"h":31.2,"v":7.4},{"h":32.5,"v":10.1},{"h":33.5,"v":11.9},{"h":34.35,"v":12.36},{"h":35.3,"v":12.0},
      {"h":36.65,"v":11.55},{"h":38.15,"v":12.45},{"h":40.2,"v":14.2},{"h":42.2,"v":14.55},{"h":43.7,"v":14.3},{"h":46.0,"v":12.9}
    ],
    "handles": [
      {"h":0,"v":16,"kind":"corner"},{"h":0,"v":-2,"kind":"corner"},{"h":47.55,"v":16,"kind":"corner"},{"h":47.55,"v":-2,"kind":"corner"},
      {"h":0,"v":7,"kind":"edge"},{"h":47.55,"v":7,"kind":"edge"},{"h":23.85,"v":16,"kind":"edge"},{"h":23.85,"v":-2,"kind":"edge"}
    ]
  },
  "vconcat": [
    {
      "width": 640,
      "height": 421,
      "title": {"text": "a", "orient": "right", "frame": "group", "anchor": "middle", "angle": 0, "align": "left", "baseline": "middle", "offset": 0, "dy": 14},
      "encoding": {
        "x": {"field": "h", "type": "quantitative", "scale": {"domain": [0, 47.55], "nice": false, "zero": false},
          "axis": {"title": null, "values": [0, 24, 47.55], "domain": false, "grid": true,
            "labelExpr": "datum.value < 1 ? '17.05.19 0:00' : datum.value < 30 ? '18.05.19 0:00' : '19.05.'",
            "labelAlign": {"condition": {"test": "datum.value > 30", "value": "right"}, "value": "center"},
            "gridOpacity": {"condition": {"test": "datum.value > 30", "value": 0}, "value": 1},
            "tickOpacity": {"condition": {"test": "datum.value > 30", "value": 0}, "value": 1}}},
        "y": {"field": "v", "type": "quantitative", "scale": {"domain": [6.3e-8, 7.03e-8], "nice": false, "zero": false},
          "axis": {"title": null, "values": [6.3e-8, 6.4e-8, 6.5e-8, 6.6e-8, 6.7e-8, 6.8e-8, 6.9e-8, 7.0e-8], "grid": true,
            "labelExpr": "replace(format(datum.value * 1e8, '.1f'), '.', ',') + 'E-08'"}}
      },
      "layer": [
        {"data": {"name": "blueDots"}, "mark": {"type": "circle", "color": "#87a5da", "size": 9, "opacity": 0.95, "clip": true}},
        {"data": {"name": "orangeDots"}, "mark": {"type": "circle", "color": "#f0a071", "size": 9, "opacity": 0.95, "clip": true}},
        {"data": {"name": "orangeSeries"}, "mark": {"type": "line", "color": "#e2741f", "strokeWidth": 1.5, "clip": true}},
        {"data": {"name": "blueSeries"}, "mark": {"type": "line", "color": "#1a6fc0", "strokeWidth": 1.5, "clip": true}},
        {"data": {"name": "blueTrend"}, "mark": {"type": "line", "color": "#1570c2", "strokeWidth": 4.5, "interpolate": "monotone", "strokeCap": "round", "clip": true}},
        {"data": {"name": "orangeTrend"}, "mark": {"type": "line", "color": "#e8731c", "strokeWidth": 5, "interpolate": "monotone", "strokeCap": "round", "clip": true}}
      ]
    },
    {
      "width": 640,
      "height": 202,
      "title": {"text": "b", "orient": "right", "frame": "group", "anchor": "middle", "angle": 0, "align": "left", "baseline": "middle", "offset": 5, "dy": 6},
      "encoding": {
        "x": {"field": "h", "type": "quantitative", "scale": {"domain": [0, 47.55], "nice": false, "zero": false},
          "axis": {"title": null, "values": [0, 24, 47.55], "domain": false, "grid": true,
            "labelExpr": "datum.value < 1 ? '17.05.19 0:00' : datum.value < 30 ? '18.05.19 0:00' : '19.05.'",
            "labelAlign": {"condition": {"test": "datum.value > 30", "value": "right"}, "value": "center"},
            "gridOpacity": {"condition": {"test": "datum.value > 30", "value": 0}, "value": 1},
            "tickOpacity": {"condition": {"test": "datum.value > 30", "value": 0}, "value": 1}}},
        "y": {"field": "v", "type": "quantitative", "scale": {"domain": [6.0e-8, 7.6e-8], "nice": false, "zero": false},
          "axis": {"title": null, "values": [6.0e-8, 6.5e-8, 7.0e-8, 7.5e-8], "grid": true,
            "labelExpr": "replace(format(datum.value * 1e8, '.1f'), '.', ',') + 'E-08'"}}
      },
      "layer": [
        {"data": {"name": "greenSeries"}, "mark": {"type": "line", "color": "#82d6a4", "strokeWidth": 2, "clip": true}},
        {"data": {"name": "greenSeries"}, "mark": {"type": "point", "shape": "square", "filled": true, "color": "#a9a84c", "size": 10, "opacity": 1, "clip": true}},
        {"data": {"name": "greenTrend"}, "mark": {"type": "line", "color": "#0cae4c", "strokeWidth": 4.5, "interpolate": "monotone", "strokeCap": "round", "clip": true}}
      ]
    },
    {
      "width": 640,
      "height": 198,
      "title": {"text": "c", "orient": "right", "frame": "group", "anchor": "middle", "angle": 0, "align": "left", "baseline": "middle", "offset": 4, "dy": 0},
      "encoding": {
        "x": {"field": "h", "type": "quantitative", "scale": {"domain": [0, 47.55], "nice": false, "zero": false},
          "axis": {"title": null, "values": [0, 24, 47.55], "domain": false, "grid": true, "ticks": false,
            "labelExpr": "datum.value < 1 ? '17.05.19 0:00' : datum.value < 30 ? '18.05.19 0:00' : '19.05.:'",
            "labelAlign": {"condition": {"test": "datum.value > 30", "value": "right"}, "value": "center"},
            "gridOpacity": {"condition": {"test": "datum.value > 30", "value": 0}, "value": 1}}},
        "y": {"field": "v", "type": "quantitative", "scale": {"domain": [-2, 16], "nice": false, "zero": false},
          "axis": {"title": null, "values": [-2, 0, 2, 4, 6, 8, 10, 12, 14, 16], "grid": true, "ticks": false, "labelFontSize": 19, "labelPadding": 14,
            "labelExpr": "format(datum.value, 'd')"}}
      },
      "layer": [
        {"data": {"name": "curveC"}, "mark": {"type": "line", "color": "#4a7ebb", "strokeWidth": 2.5, "interpolate": "monotone"}},
        {"data": {"name": "handles"}, "transform": [{"filter": "datum.kind === 'corner'"}],
          "mark": {"type": "point", "shape": "circle", "filled": true, "fill": "#e3f0f6", "stroke": "#88a9bd", "strokeWidth": 1.2, "size": 95, "opacity": 1}},
        {"data": {"name": "handles"}, "transform": [{"filter": "datum.kind === 'edge'"}],
          "mark": {"type": "point", "shape": "square", "filled": true, "fill": "#dcedf8", "stroke": "#7fa6c2", "strokeWidth": 1.2, "size": 80, "opacity": 1}}
      ]
    }
  ],
  "config": {
    "view": {"stroke": null},
    "locale": {"number": {"decimal": ".", "thousands": "", "grouping": [3], "currency": ["", ""], "minus": "-"}},
    "axis": {
      "labelFont": "Liberation Sans",
      "labelFontWeight": "bold",
      "labelColor": "#2b2b2b",
      "gridColor": "#9a9a9a",
      "gridWidth": 1.2,
      "domainColor": "#9a9a9a",
      "domainWidth": 1.2,
      "tickColor": "#9a9a9a",
      "tickWidth": 1.2,
      "labelOverlap": false,
      "labelBound": false,
      "labelFlush": false
    },
    "axisY": {"labelFontSize": 18, "tickSize": 6, "labelPadding": 14},
    "axisX": {"labelFontSize": 20, "tickSize": 8, "labelPadding": 15},
    "title": {"font": "Open Sans", "fontStyle": "italic", "fontWeight": "normal", "fontSize": 27, "color": "#111111"}
  }
}
